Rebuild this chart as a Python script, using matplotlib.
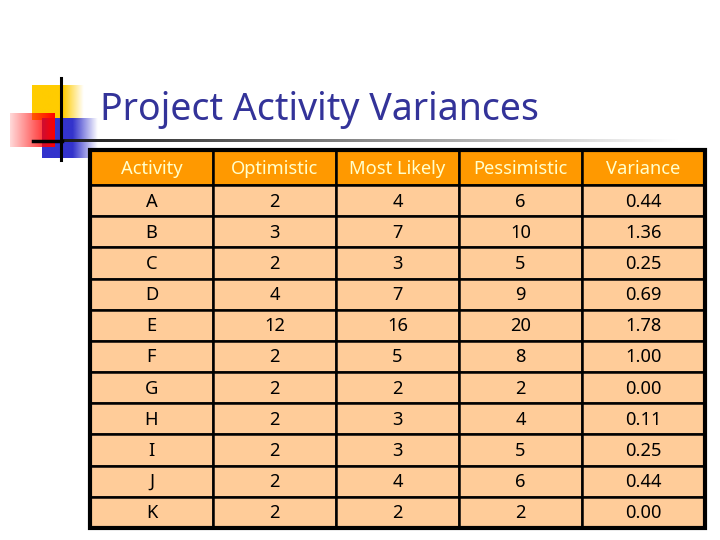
import numpy as np
import matplotlib
matplotlib.use("Agg")
import matplotlib.pyplot as plt
from matplotlib.patches import Rectangle

title = "Project Activity Variances"
columns = ["Activity", "Optimistic", "Most Likely", "Pessimistic", "Variance"]
activities = ["A", "B", "C", "D", "E", "F", "G", "H", "I", "J", "K"]
optimistic = [2, 3, 2, 4, 12, 2, 2, 2, 2, 2, 2]
most_likely = [4, 7, 3, 7, 16, 5, 2, 3, 3, 4, 2]
pessimistic = [6, 10, 5, 9, 20, 8, 2, 4, 5, 6, 2]
variance = ["0.44", "1.36", "0.25", "0.69", "1.78", "1.00", "0.00", "0.11", "0.25", "0.44", "0.00"]

FONT = "Noto Sans"

fig = plt.figure(figsize=(7.2, 5.4), dpi=100)
ax = fig.add_axes([0, 0, 1, 1])
ax.set_xlim(0, 720)
ax.set_ylim(540, 0)
ax.axis("off")


def grad(x0, x1, y0, y1, c_left, c_right, alpha_pts, z=1):
    # horizontal gradient, alpha given as (t, a) points
    n = 128
    t = np.linspace(0, 1, n)
    img = np.zeros((1, n, 4))
    for i in range(3):
        img[0, :, i] = c_left[i] + (c_right[i] - c_left[i]) * t
    ts, As = zip(*alpha_pts)
    img[0, :, 3] = np.interp(t, ts, As)
    ax.imshow(img, extent=[x0, x1, y1, y0], aspect="auto", zorder=z,
              interpolation="bilinear")


# logo blocks
grad(32, 84, 85, 120, (1.0, 0.8, 0.0), (1.0, 0.8, 0.0), [(0, 1), (0.6, 1), (1, 0)], z=1)
grad(42, 98, 118, 158, (0.2, 0.2, 0.8), (0.2, 0.2, 0.8), [(0, 1), (0.55, 1), (1, 0)], z=2)
grad(10, 55, 113, 147, (1.0, 0.0, 0.0), (1.0, 0.0, 0.0), [(0, 0.15), (1, 1)], z=3)
ax.plot([61, 61], [78, 160], color="black", lw=2.2, zorder=5)
ax.plot([33, 62], [141, 141], color="black", lw=2.5, zorder=5)
grad(61, 680, 139.5, 142.5, (0.1, 0.1, 0.1), (1.0, 1.0, 1.0), [(0, 1), (1, 1)], z=4)

ax.text(100, 120, title, fontsize=27, color="#333399", family=FONT,
        ha="left", va="baseline")

# table
x_edges = [90, 213, 336, 459, 582, 705]
y_top, y_head = 150, 185
row_h = (528 - y_head) / len(activities)

rows = [[a, str(o), str(m), str(p), v] for a, o, m, p, v in
        zip(activities, optimistic, most_likely, pessimistic, variance)]

for j, name in enumerate(columns):
    x0, x1 = x_edges[j], x_edges[j + 1]
    ax.add_patch(Rectangle((x0, y_top), x1 - x0, y_head - y_top,
                           facecolor="#FF9900", edgecolor="black", lw=1.8, zorder=6))
    ax.text((x0 + x1) / 2, (y_top + y_head) / 2 + 1, name, fontsize=13.2,
            color="#FFFFCC", family=FONT, ha="center", va="center", zorder=7)
    for i, row in enumerate(rows):
        y0 = y_head + i * row_h
        ax.add_patch(Rectangle((x0, y0), x1 - x0, row_h,
                               facecolor="#FFCC99", edgecolor="black", lw=1.8, zorder=6))
        ax.text((x0 + x1) / 2, y0 + row_h / 2 + 1, row[j], fontsize=13.2,
                color="black", family=FONT, ha="center", va="center", zorder=7)

ax.add_patch(Rectangle((x_edges[0], y_top), x_edges[-1] - x_edges[0], 528 - y_top,
                       facecolor="none", edgecolor="black", lw=3, zorder=8))

fig.savefig("out.png", dpi=100)
